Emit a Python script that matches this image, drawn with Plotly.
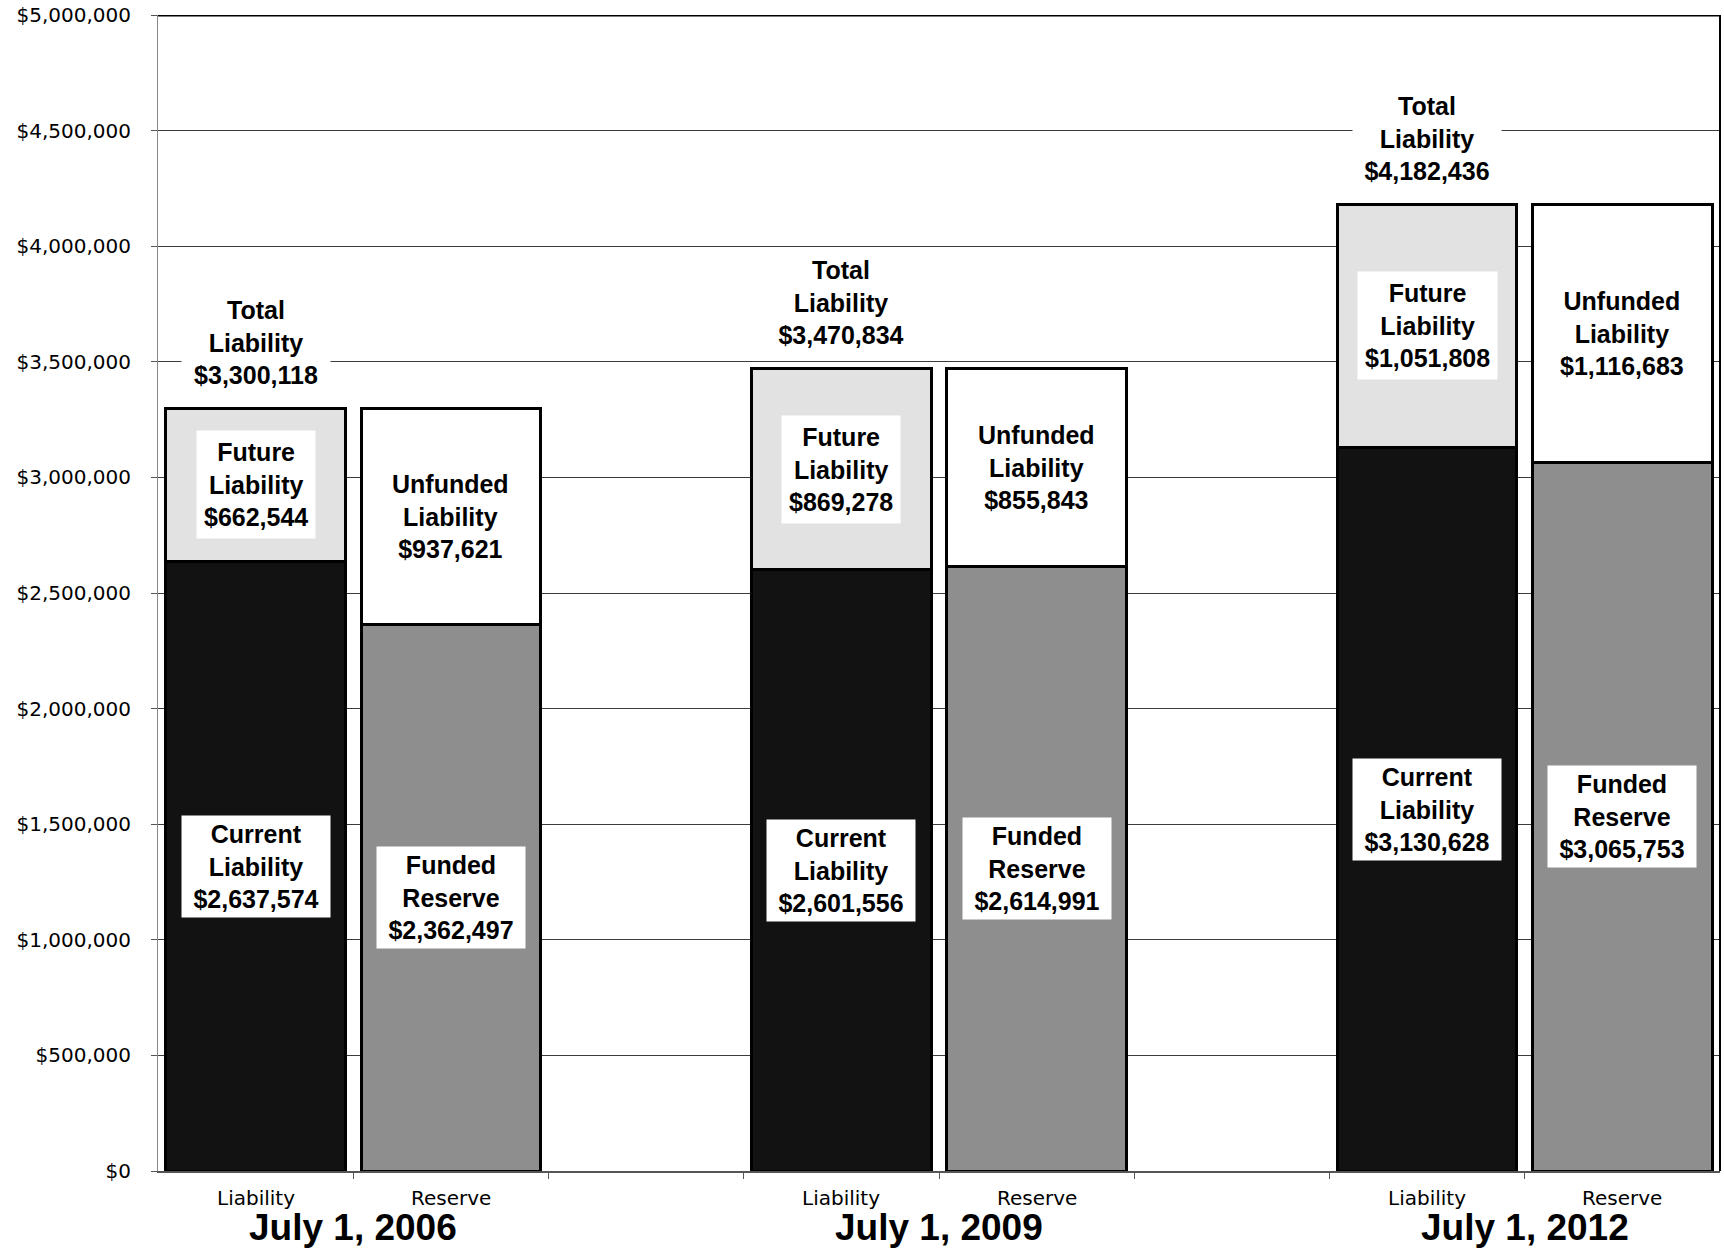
import plotly.graph_objects as go

# Valuation dates and the two bars drawn for each one
years = ["July 1, 2006", "July 1, 2009", "July 1, 2012"]
bar_names = ["Liability", "Reserve"]

# Liability bar segments
current_liability = [2637574, 2601556, 3130628]
future_liability = [662544, 869278, 1051808]

# Reserve bar segments
funded_reserve = [2362497, 2614991, 3065753]
unfunded_liability = [937621, 855843, 1116683]

# y-axis ticks
y_ticks = [0, 500000, 1000000, 1500000, 2000000, 2500000,
           3000000, 3500000, 4000000, 4500000, 5000000]

# Slot layout: Liability / Reserve pair per date, one empty slot between pairs
liab_x = [0, 3, 6]
res_x = [1, 4, 7]
group_centres = [0.5, 3.5, 6.5]

BAR_W = 0.92
OUTLINE = dict(color="#000000", width=3)
REG_FONT = "DejaVu Sans"
BOLD_FONT = "Liberation Sans, Arial, sans-serif"
LABEL_SIZE = 25

totals = [c + f for c, f in zip(current_liability, future_liability)]


def money(v):
    return f"${v:,.0f}"


fig = go.Figure()
fig.add_trace(go.Bar(x=liab_x, y=current_liability, width=BAR_W,
                     marker=dict(color="#121212", line=OUTLINE),
                     name="Current Liability"))
fig.add_trace(go.Bar(x=liab_x, y=future_liability, width=BAR_W,
                     marker=dict(color="#e2e2e2", line=OUTLINE),
                     name="Future Liability"))
fig.add_trace(go.Bar(x=res_x, y=funded_reserve, width=BAR_W,
                     marker=dict(color="#8e8e8e", line=OUTLINE),
                     name="Funded Reserve"))
fig.add_trace(go.Bar(x=res_x, y=unfunded_liability, width=BAR_W,
                     marker=dict(color="#ffffff", line=OUTLINE),
                     name="Unfunded Liability"))

annotations = []


def seg_label(x, y, title, value, boxed=True, width=None, pad=5):
    a = dict(x=x, y=y, xref="x", yref="y", showarrow=False,
             text=f"<b>{title[0]}<br>{title[1]}<br>{money(value)}</b>",
             font=dict(family=BOLD_FONT, size=LABEL_SIZE, color="#000000"),
             align="center", xanchor="center", yanchor="middle",
             borderpad=pad)
    if boxed:
        a["bgcolor"] = "#ffffff"
    if width:
        a["width"] = width
    annotations.append(a)


for i in range(3):
    lx, rx = liab_x[i], res_x[i]
    c, f = current_liability[i], future_liability[i]
    fr, uf = funded_reserve[i], unfunded_liability[i]
    # segment labels at the middle of each segment
    seg_label(lx, c / 2, ("Current", "Liability"), c, width=140, pad=4)
    seg_label(lx, c + f / 2, ("Future", "Liability"), f, pad=7)
    seg_label(rx, fr / 2, ("Funded", "Reserve"), fr, width=140, pad=4)
    seg_label(rx, fr + uf / 2, ("Unfunded", "Liability"), uf, boxed=False)
    # total above the liability bar
    annotations.append(dict(
        x=lx, y=totals[i], xref="x", yref="y", showarrow=False,
        text=f"<b>Total<br>Liability<br>{money(totals[i])}</b>",
        font=dict(family=BOLD_FONT, size=LABEL_SIZE, color="#000000"),
        align="center", xanchor="center", yanchor="middle", yshift=66,
        bgcolor="#ffffff", width=140, borderpad=4))
    # category labels under the axis
    for x, name in ((lx, bar_names[0]), (rx, bar_names[1])):
        annotations.append(dict(
            x=x, y=0, xref="x", yref="paper", showarrow=False, text=name,
            font=dict(family=REG_FONT, size=20, color="#000000"),
            xanchor="center", yanchor="middle", yshift=-27))
    annotations.append(dict(
        x=group_centres[i], y=0, xref="x", yref="paper", showarrow=False,
        text=f"<b>{years[i]}</b>",
        font=dict(family=BOLD_FONT, size=37, color="#000000"),
        xanchor="center", yanchor="middle", yshift=-56))

fig.update_layout(
    width=1724, height=1248,
    margin=dict(l=158, r=4, t=15, b=77),
    paper_bgcolor="#ffffff", plot_bgcolor="#ffffff",
    barmode="stack", showlegend=False,
    annotations=annotations,
    xaxis=dict(range=[-0.5, 7.5], showgrid=False, zeroline=False,
               tickvals=[], showticklabels=False,
               showline=True, linecolor="#555555", linewidth=2,
               minor=dict(tickvals=[0.5, 1.5, 2.5, 3.5, 4.5, 5.5, 6.5],
                          ticks="outside", ticklen=6, tickcolor="#555555",
                          showgrid=False)),
    yaxis=dict(range=[0, 5000000], tickvals=y_ticks, tickformat="$,.0f",
               showgrid=True, gridcolor="#3c3c3c", gridwidth=1,
               zeroline=False, showline=True, linecolor="#888888",
               linewidth=1, ticks="outside", ticklen=6,
               tickcolor="#555555", ticklabelstandoff=16,
               tickfont=dict(family=REG_FONT, size=20, color="#000000")),
    shapes=[
        dict(type="line", xref="paper", yref="y", x0=0, x1=1,
             y0=5000000, y1=5000000, line=dict(color="#000000", width=3)),
        dict(type="line", xref="paper", yref="paper", x0=1, x1=1,
             y0=0, y1=1, line=dict(color="#000000", width=2)),
    ],
)

fig.write_html("out.html")
